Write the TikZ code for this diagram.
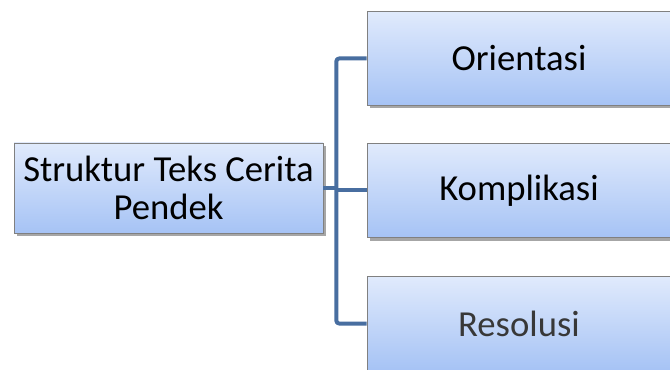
\documentclass[tikz,border=0pt]{standalone}
\usepackage{fontspec}
\setmainfont{Carlito}
\usetikzlibrary{shadows}

\definecolor{boxtop}{RGB}{224,234,252}
\definecolor{boxbottom}{RGB}{166,195,245}
\definecolor{linkblue}{RGB}{72,110,160}

\tikzset{
  box/.style={draw={rgb, 255:red, 128; green, 128; blue, 128}, line width=0.6pt,
    top color=boxtop, bottom color=boxbottom, align=center, inner sep=0.75pt,
    font=\fontsize{27.5}{28}\selectfont,
    drop shadow={shadow xshift=2pt, shadow yshift=-2.5pt, fill=black, opacity=0.35}},
  link/.style={draw=linkblue, line width=3pt, rounded corners=2pt, line join=round}
}

\begin{document}
\begin{tikzpicture}[x=0.75pt,y=0.75pt,yscale=-1,xscale=1]
\clip (0,0) rectangle (670,370);
\fill[white] (0,0) rectangle (670,370);

% Root Node
\node [box, minimum width=231.75pt, minimum height=67.5pt] (root) at (168.5,188) {Struktur Teks Cerita\\Pendek};

% Text Node
\node [box, minimum width=228pt, minimum height=70pt] (orientasi) at (519,58.5) {Orientasi};
% Text Node
\node [box, minimum width=228pt, minimum height=70pt] (komplikasi) at (519,190.5) {Komplikasi};
% Text Node
\node [box, minimum width=228pt, minimum height=70pt, text=black!78] (resolusi) at (519,323.5) {Resolusi};

%Connectors
\draw [link] (root.east) -- ++(13,0) coordinate (bus);
\draw [link] (orientasi.west) -| (bus) |- (resolusi.west);
\draw [link] (bus |- komplikasi.west) -- (komplikasi.west);

\end{tikzpicture}
\end{document}
